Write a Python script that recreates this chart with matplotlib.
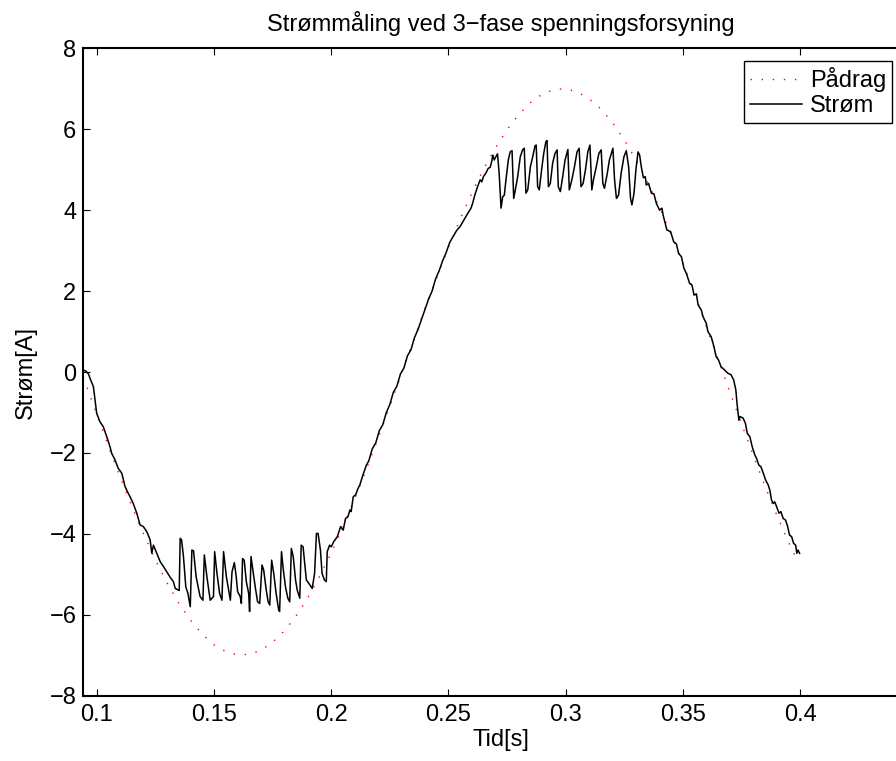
import matplotlib
matplotlib.use('Agg')
import matplotlib.pyplot as plt

plt.rcParams['font.family'] = ['Liberation Sans', 'DejaVu Sans']
plt.rcParams['axes.unicode_minus'] = True

title = 'Strømmåling ved 3−fase spenningsforsyning'
xlabel = 'Tid[s]'
ylabel = 'Strøm[A]'
legend_labels = ['Pådrag', 'Strøm']

xticks = [0.1, 0.15, 0.2, 0.25, 0.3, 0.35, 0.4]
xticklabels = ['0.1', '0.15', '0.2', '0.25', '0.3', '0.35', '0.4']
yticks = [-8, -6, -4, -2, 0, 2, 4, 6, 8]
yticklabels = ['−8', '−6', '−4', '−2', '0', '2', '4', '6', '8']

# Reference (Pådrag)
pad_t = [0.0943, 0.095, 0.100, 0.105, 0.110, 0.115, 0.120, 0.125, 0.130, 0.135,
         0.140, 0.145, 0.150, 0.155, 0.160, 0.165, 0.170, 0.175, 0.180, 0.185,
         0.190, 0.195, 0.200, 0.205, 0.210, 0.215, 0.220, 0.225, 0.230, 0.235,
         0.240, 0.245, 0.250, 0.255, 0.260, 0.265, 0.270, 0.275, 0.280, 0.285,
         0.290, 0.295, 0.300, 0.305, 0.310, 0.315, 0.320, 0.325, 0.330, 0.335,
         0.340, 0.345, 0.350, 0.355, 0.360, 0.365, 0.370, 0.375, 0.380, 0.385,
         0.390, 0.395, 0.3985]
pad_v = [-0.13, -0.24, -1.04, -1.83, -2.59, -3.32, -4.00, -4.64, -5.21, -5.71,
         -6.13, -6.48, -6.74, -6.91, -6.99, -6.98, -6.88, -6.68, -6.40, -6.03,
         -5.58, -5.06, -4.47, -3.84, -3.13, -2.40, -1.63, -0.84, -0.03, 0.77,
         1.57, 2.34, 3.08, 3.78, 4.43, 5.02, 5.54, 5.99, 6.37, 6.66,
         6.87, 6.98, 7.00, 6.92, 6.75, 6.50, 6.16, 5.73, 5.24, 4.68,
         4.06, 3.39, 2.67, 1.93, 1.11, 0.31, -0.50, -1.29, -2.07, -2.83,
         -3.54, -4.21, -4.64]

# Measured current (Strøm)
strom_t = [0.0943, 0.0955, 0.0965, 0.0972, 0.0986, 0.0993, 0.1000, 0.1014, 0.1028, 0.1043,
           0.1057, 0.1064, 0.1078, 0.1092, 0.1107, 0.1121, 0.1128, 0.1142, 0.1156, 0.1171,
           0.1185, 0.1199, 0.1214, 0.1228, 0.1235, 0.1242, 0.1256, 0.1271, 0.1285, 0.1299,
           0.1313, 0.1327, 0.1335, 0.1349, 0.1352,
           0.1356, 0.1362, 0.1370, 0.1380, 0.1389, 0.1399, 0.1406, 0.1413, 0.1424, 0.1441,
           0.1453, 0.1459, 0.1470, 0.1484, 0.1498, 0.1503, 0.1513, 0.1524, 0.1534, 0.1541,
           0.1553, 0.1570, 0.1577, 0.1587, 0.1595, 0.1601, 0.1612, 0.1617, 0.1622, 0.1629,
           0.1638, 0.1648, 0.1652, 0.1658, 0.1667, 0.1676, 0.1686, 0.1695, 0.1705, 0.1712,
           0.1722, 0.1731, 0.1738, 0.1746, 0.1755, 0.1765, 0.1776, 0.1780, 0.1788, 0.1795,
           0.1805, 0.1815, 0.1823, 0.1830, 0.1838, 0.1848, 0.1855, 0.1866, 0.1872, 0.1880,
           0.1887, 0.1894, 0.1904, 0.1919, 0.1929, 0.1937, 0.1944, 0.1954, 0.1961, 0.1971,
           0.1979, 0.1983, 0.1993, 0.2000, 0.2011, 0.2026, 0.2040, 0.2051, 0.2061, 0.2071,
           0.2080, 0.2085, 0.2094, 0.2104, 0.2114, 0.2122,
           0.2135, 0.2150, 0.2160, 0.2175, 0.2190, 0.2205, 0.2220, 0.2235, 0.2250, 0.2265,
           0.2280, 0.2295, 0.2310, 0.2325, 0.2340, 0.2355, 0.2370, 0.2385, 0.2400, 0.2415,
           0.2430, 0.2445, 0.2460, 0.2475, 0.2490, 0.2505, 0.2520, 0.2535, 0.2550, 0.2565,
           0.2580,
           0.2596, 0.2603, 0.2612, 0.2624, 0.2635, 0.2642, 0.2649, 0.2659, 0.2669, 0.2678,
           0.2684, 0.2689, 0.2695, 0.2702, 0.2709, 0.2716, 0.2724, 0.2731, 0.2738, 0.2745,
           0.2755, 0.2763, 0.2771, 0.2778, 0.2785, 0.2795, 0.2806, 0.2816, 0.2823, 0.2830,
           0.2838, 0.2849, 0.2859, 0.2869, 0.2874, 0.2880, 0.2887, 0.2897, 0.2906, 0.2915,
           0.2920, 0.2926, 0.2934, 0.2944, 0.2954, 0.2963, 0.2968, 0.2977, 0.2987, 0.2997,
           0.3009, 0.3015, 0.3026, 0.3037, 0.3048, 0.3057, 0.3065, 0.3074, 0.3084, 0.3094,
           0.3103, 0.3111, 0.3118, 0.3130, 0.3141, 0.3151, 0.3158, 0.3165, 0.3177, 0.3186,
           0.3201, 0.3208, 0.3216, 0.3225, 0.3236, 0.3248, 0.3258, 0.3268, 0.3276, 0.3282,
           0.3291, 0.3299, 0.3308, 0.3315, 0.3322, 0.3331, 0.3339, 0.3343, 0.3353,
           0.3365, 0.3376, 0.3386, 0.3400, 0.3410, 0.3415, 0.3431, 0.3447, 0.3460, 0.3472,
           0.3481, 0.3493, 0.3504, 0.3514, 0.3528, 0.3538, 0.3547, 0.3557, 0.3564, 0.3578,
           0.3585, 0.3599, 0.3606, 0.3620, 0.3632, 0.3641, 0.3651, 0.3662, 0.3677, 0.3691,
           0.3705, 0.3716, 0.3725, 0.3730, 0.3738, 0.3743, 0.3756, 0.3766, 0.3774, 0.3785,
           0.3795, 0.3806, 0.3813, 0.3823, 0.3832, 0.3842, 0.3852, 0.3863, 0.3870, 0.3877,
           0.3885, 0.3891, 0.3899, 0.3909, 0.3917, 0.3927, 0.3937, 0.3946, 0.3954, 0.3963,
           0.3971, 0.3980, 0.3985, 0.3990, 0.3997]
strom_v = [0.05, 0.02, -0.05, -0.16, -0.36, -0.69, -1.02, -1.23, -1.35, -1.60,
           -1.85, -2.01, -2.17, -2.38, -2.50, -2.83, -2.92, -3.08, -3.25, -3.49,
           -3.78, -3.82, -3.95, -4.15, -4.48, -4.28, -4.48, -4.69, -4.81, -4.94,
           -5.07, -5.18, -5.35, -5.39, -5.40,
           -4.11, -4.15, -4.56, -5.31, -5.47, -5.80, -4.40, -4.42, -5.06, -5.55,
           -5.64, -4.52, -5.06, -5.64, -5.55, -4.44, -4.98, -5.47, -5.64, -4.44,
           -5.06, -5.64, -4.94, -4.71, -5.06, -5.43, -5.55, -5.72, -4.61, -4.65,
           -5.18, -5.47, -5.92, -4.56, -4.94, -5.31, -5.68, -5.72, -4.77, -4.89,
           -5.35, -5.68, -5.76, -4.65, -4.98, -5.47, -5.88, -5.92, -4.44, -4.85,
           -5.31, -5.59, -5.68, -4.36, -4.56, -5.14, -5.39, -5.59, -4.28, -4.32,
           -4.73, -5.14, -5.22, -5.35, -4.98, -3.99, -3.99, -4.40, -4.98, -5.14,
           -5.18, -4.44, -4.28, -4.32, -4.19, -4.07, -3.82, -3.91, -3.62, -3.58,
           -3.41, -3.45, -3.08, -3.04, -2.88, -2.79,
           -2.55, -2.30, -2.20, -1.90, -1.75, -1.45, -1.30, -1.00, -0.80, -0.50,
           -0.35, -0.05, 0.10, 0.40, 0.55, 0.85, 1.05, 1.30, 1.55, 1.80,
           2.00, 2.30, 2.50, 2.75, 2.95, 3.20, 3.35, 3.50, 3.60, 3.75,
           3.90,
           4.05, 4.17, 4.37, 4.58, 4.75, 4.70, 4.83, 4.91, 5.03, 5.06,
           5.20, 5.36, 5.24, 5.32, 5.39, 4.91, 4.05, 4.33, 4.37, 4.75,
           5.24, 5.44, 5.47, 4.29, 4.50, 4.83, 5.32, 5.49, 5.53, 4.42,
           4.50, 5.07, 5.32, 5.59, 5.61, 4.58, 4.50, 5.00, 5.40, 5.69,
           5.72, 4.58, 4.66, 5.16, 5.40, 5.49, 4.58, 4.46, 4.83, 5.24,
           5.50, 4.50, 4.75, 5.07, 5.44, 5.53, 4.58, 4.66, 5.00, 5.44,
           5.61, 4.50, 4.75, 5.07, 5.40, 5.49, 4.66, 4.54, 4.91, 5.24,
           5.53, 4.75, 4.29, 4.37, 4.91, 5.32, 5.47, 5.07, 4.29, 4.13,
           4.42, 5.00, 5.44, 5.36, 5.07, 4.80, 4.83, 4.62, 4.66,
           4.42, 4.40, 4.17, 4.00, 4.05, 3.88, 3.51, 3.47, 3.22, 3.16,
           2.93, 2.85, 2.56, 2.44, 2.19, 2.15, 1.90, 1.93, 1.66, 1.53,
           1.37, 1.20, 1.00, 0.87, 0.62, 0.38, 0.30, 0.13, 0.05, -0.03,
           -0.07, -0.20, -0.44, -0.77, -1.19, -1.10, -1.14, -1.27, -1.52, -1.60,
           -1.85, -2.05, -2.13, -2.30, -2.34, -2.50, -2.67, -2.79, -2.92, -3.16,
           -3.25, -3.21, -3.33, -3.49, -3.45, -3.62, -3.66, -3.82, -4.03, -4.07,
           -4.23, -4.28, -4.48, -4.40, -4.48]

W, H = 896, 761
fig = plt.figure(figsize=(W / 100, H / 100), dpi=100)
ax = fig.add_axes([83.3 / W, (H - 695.7) / H, 834.3 / W, 647.4 / H])

ax.plot(pad_t, pad_v, color='red', lw=1.0, linestyle=(0, (1, 7)),
        label=legend_labels[0])
ax.plot(strom_t, strom_v, color='black', lw=1.1, label=legend_labels[1])

ax.set_xlim(0.0943, 0.45)
ax.set_ylim(-8, 8)
ax.set_xticks(xticks)
ax.set_xticklabels(xticklabels)
ax.set_yticks(yticks)
ax.set_yticklabels(yticklabels)
ax.tick_params(direction='in', length=5, width=0.8, top=True, right=True,
               labelsize=17, color='black')
ax.tick_params(axis='x', pad=6)
ax.tick_params(axis='y', pad=5)
for s in ax.spines.values():
    s.set_linewidth(1.5)

ax.set_title(title, fontsize=17, pad=12.5)
ax.set_xlabel(xlabel, fontsize=17, labelpad=2)
ax.set_ylabel(ylabel, fontsize=17, labelpad=9)

leg = ax.legend(loc='upper right', bbox_to_anchor=(892 / W, 1 - 61 / H),
                bbox_transform=fig.transFigure, fontsize=17, frameon=True,
                fancybox=False, shadow=False, framealpha=1, edgecolor='black',
                handlelength=2.2, handletextpad=0.35, borderaxespad=0,
                borderpad=0.25, labelspacing=0.15)
leg.get_frame().set_linewidth(1.0)

fig.savefig('out.png', dpi=100)
